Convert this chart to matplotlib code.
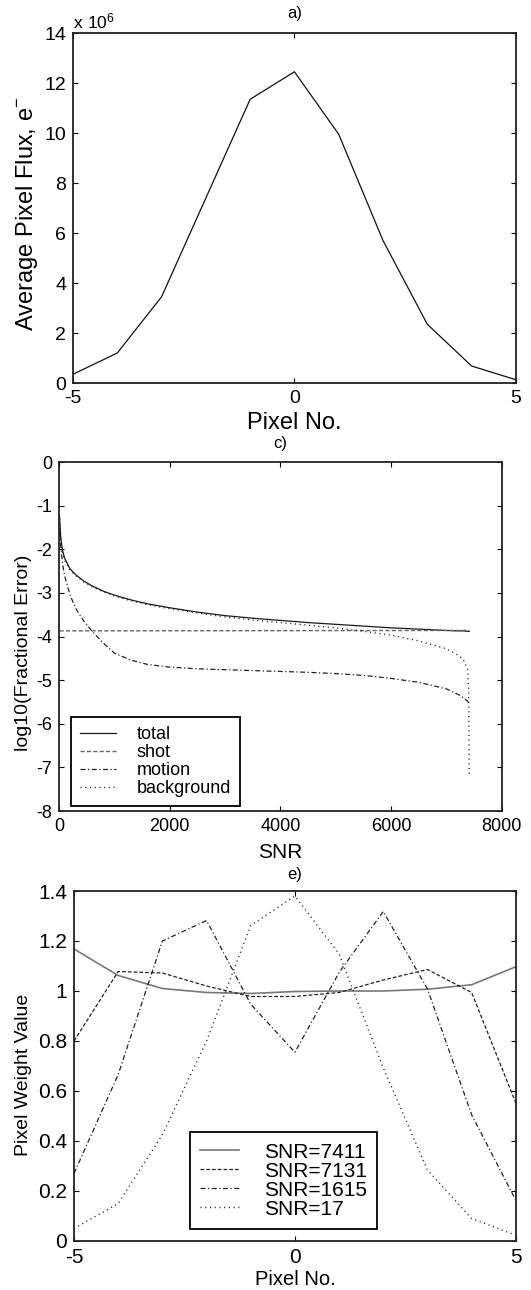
import matplotlib
matplotlib.use("Agg")
import matplotlib.pyplot as plt
from matplotlib.ticker import FormatStrFormatter

plt.rcParams['font.family'] = ['Liberation Sans', 'DejaVu Sans']
plt.rcParams['mathtext.fontset'] = 'custom'
plt.rcParams['mathtext.rm'] = 'Liberation Sans'
plt.rcParams['axes.unicode_minus'] = False

# --- a) average pixel flux (units of 10^6 e-)
pixel_no = [-5, -4, -3, -2, -1, 0, 1, 2, 3, 4, 5]
flux_1e6 = [0.35, 1.2, 3.45, 7.4, 11.35, 12.45, 9.95, 5.7, 2.35, 0.68, 0.13]

# --- c) log10 fractional error vs SNR
snr = [10, 30, 60, 100, 200, 300, 450, 600, 800, 1000, 1300, 1600, 2000, 2500,
       3000, 3500, 4000, 4500, 5000, 5500, 6000, 6500, 7000, 7200, 7300, 7380, 7400, 7411]
err_total = [-1.25, -1.7, -2.0, -2.2, -2.45, -2.58, -2.73, -2.84, -2.96, -3.05, -3.16, -3.25,
             -3.34, -3.44, -3.52, -3.58, -3.63, -3.68, -3.72, -3.76, -3.80, -3.83, -3.86,
             -3.87, -3.87, -3.88, -3.88, -3.88]
err_motion = [-1.6, -1.9, -2.3, -2.6, -3.05, -3.35, -3.65, -3.88, -4.15, -4.38, -4.54, -4.64,
              -4.70, -4.74, -4.76, -4.78, -4.80, -4.82, -4.85, -4.89, -4.96, -5.05, -5.2,
              -5.32, -5.4, -5.48, -5.52, -5.55]
err_background = [-1.3, -1.75, -2.05, -2.25, -2.48, -2.6, -2.75, -2.86, -2.97, -3.07, -3.18,
                  -3.27, -3.36, -3.46, -3.55, -3.62, -3.68, -3.74, -3.80, -3.88, -3.97, -4.1,
                  -4.28, -4.42, -4.52, -4.75, -5.2, -7.2]
snr_shot = [10, 7411]
err_shot = [-3.87, -3.86]

# --- e) pixel weights
w_7411 = [1.168, 1.062, 1.010, 0.994, 0.990, 0.998, 1.0, 1.0, 1.007, 1.025, 1.097]
w_7131 = [0.80, 1.078, 1.072, 1.02, 0.978, 0.978, 0.994, 1.044, 1.086, 0.994, 0.552]
w_1615 = [0.27, 0.666, 1.2, 1.282, 0.947, 0.755, 1.074, 1.318, 1.008, 0.505, 0.163]
w_17 = [0.05, 0.15, 0.425, 0.80, 1.262, 1.38, 1.148, 0.693, 0.284, 0.09, 0.023]

DASH = (3, 1.6)
DASHDOT = (4, 2, 1, 2)
DOT = (0.8, 2.6)


def style_axes(ax, ticksize):
    for sp in ax.spines.values():
        sp.set_linewidth(1.3)
        sp.set_color('#222222')
    ax.tick_params(direction='in', top=True, right=True, length=3.5, width=0.8,
                   labelsize=ticksize, pad=5)


fig = plt.figure(figsize=(5.31, 12.9), dpi=100)

# ---------------- a)
ax1 = fig.add_axes([0.1375, 0.7031, 0.834, 0.2713])
ax1.plot(pixel_no, flux_1e6, color='#111111', lw=0.9)
ax1.set_xlim(-5, 5)
ax1.set_ylim(0, 14)
ax1.set_xticks([-5, 0, 5])
ax1.set_yticks(range(0, 15, 2))
ax1.xaxis.set_major_formatter(FormatStrFormatter('%g'))
style_axes(ax1, 14)
ax1.set_xlabel('Pixel No.', fontsize=17)
ax1.set_ylabel(r'Average Pixel Flux, $\mathregular{e^{-}}$', fontsize=17)
ax1.xaxis.set_label_coords(0.5, -0.113)
ax1.xaxis.label.set_va('center')
ax1.yaxis.set_label_coords(-0.104, 0.483)
ax1.yaxis.label.set_va('center')
ax1.text(0.0, 1.005, r'$\mathregular{x\ 10^6}$', transform=ax1.transAxes,
         fontsize=12.5, ha='left', va='bottom')
ax1.text(0.5, 1.057, 'a)', transform=ax1.transAxes, fontsize=12, ha='center', va='center')

# ---------------- c)
ax2 = fig.add_axes([0.1111, 0.3713, 0.834, 0.2705])
ax2.plot(snr, err_total, color='#1a1a1a', lw=0.9, label='total')
ax2.plot(snr_shot, err_shot, color='#666666', lw=1.0, dashes=DASH, label='shot')
ax2.plot(snr, err_motion, color='#222222', lw=0.9, dashes=DASHDOT, label='motion')
ax2.plot(snr, err_background, color='#222222', lw=1.0, dashes=DOT, label='background')
ax2.set_xlim(0, 8000)
ax2.set_ylim(-8, 0)
ax2.set_xticks(range(0, 8001, 2000))
ax2.set_yticks(range(-8, 1))
ax2.yaxis.set_major_formatter(FormatStrFormatter('%g'))
style_axes(ax2, 13)
ax2.set_xlabel('SNR', fontsize=15)
ax2.set_ylabel('log10(Fractional Error)', fontsize=14)
ax2.xaxis.set_label_coords(0.5, -0.1175)
ax2.xaxis.label.set_va('center')
ax2.yaxis.set_label_coords(-0.08, 0.453)
ax2.yaxis.label.set_va('center')
ax2.text(0.5, 1.054, 'c)', transform=ax2.transAxes, fontsize=12, ha='center', va='center')
leg2 = ax2.legend(loc='lower left', bbox_to_anchor=(0.026, 0.014), fontsize=13,
                  fancybox=False, framealpha=1, edgecolor='black', borderpad=0.5,
                  handlelength=2.0, handletextpad=1.15, labelspacing=0.05,
                  borderaxespad=0)
leg2.get_frame().set_linewidth(1.3)

# ---------------- e)
ax3 = fig.add_axes([0.1394, 0.038, 0.832, 0.2713])
ax3.plot(pixel_no, w_7411, color='#777777', lw=1.2, label='SNR=7411')
ax3.plot(pixel_no, w_7131, color='#222222', lw=0.9, dashes=DASH, label='SNR=7131')
ax3.plot(pixel_no, w_1615, color='#222222', lw=0.9, dashes=DASHDOT, label='SNR=1615')
ax3.plot(pixel_no, w_17, color='#222222', lw=1.0, dashes=DOT, label='SNR=17')
ax3.set_xlim(-5, 5)
ax3.set_ylim(0, 1.4)
ax3.set_xticks([-5, 0, 5])
ax3.set_yticks([0, 0.2, 0.4, 0.6, 0.8, 1.0, 1.2, 1.4])
ax3.xaxis.set_major_formatter(FormatStrFormatter('%g'))
ax3.yaxis.set_major_formatter(FormatStrFormatter('%g'))
style_axes(ax3, 15)
ax3.set_xlabel('Pixel No.', fontsize=14.5)
ax3.set_ylabel('Pixel Weight Value', fontsize=14)
ax3.xaxis.set_label_coords(0.5, -0.109)
ax3.xaxis.label.set_va('center')
ax3.yaxis.set_label_coords(-0.114, 0.475)
ax3.yaxis.label.set_va('center')
ax3.text(0.5, 1.046, 'e)', transform=ax3.transAxes, fontsize=12, ha='center', va='center')
leg3 = ax3.legend(loc='lower left', bbox_to_anchor=(0.262, 0.034), fontsize=15,
                  fancybox=False, framealpha=1, edgecolor='black', borderpad=0.5,
                  handlelength=1.85, handletextpad=1.2, labelspacing=0.0,
                  borderaxespad=0)
leg3.get_frame().set_linewidth(1.3)

fig.savefig('out.png', dpi=100)
